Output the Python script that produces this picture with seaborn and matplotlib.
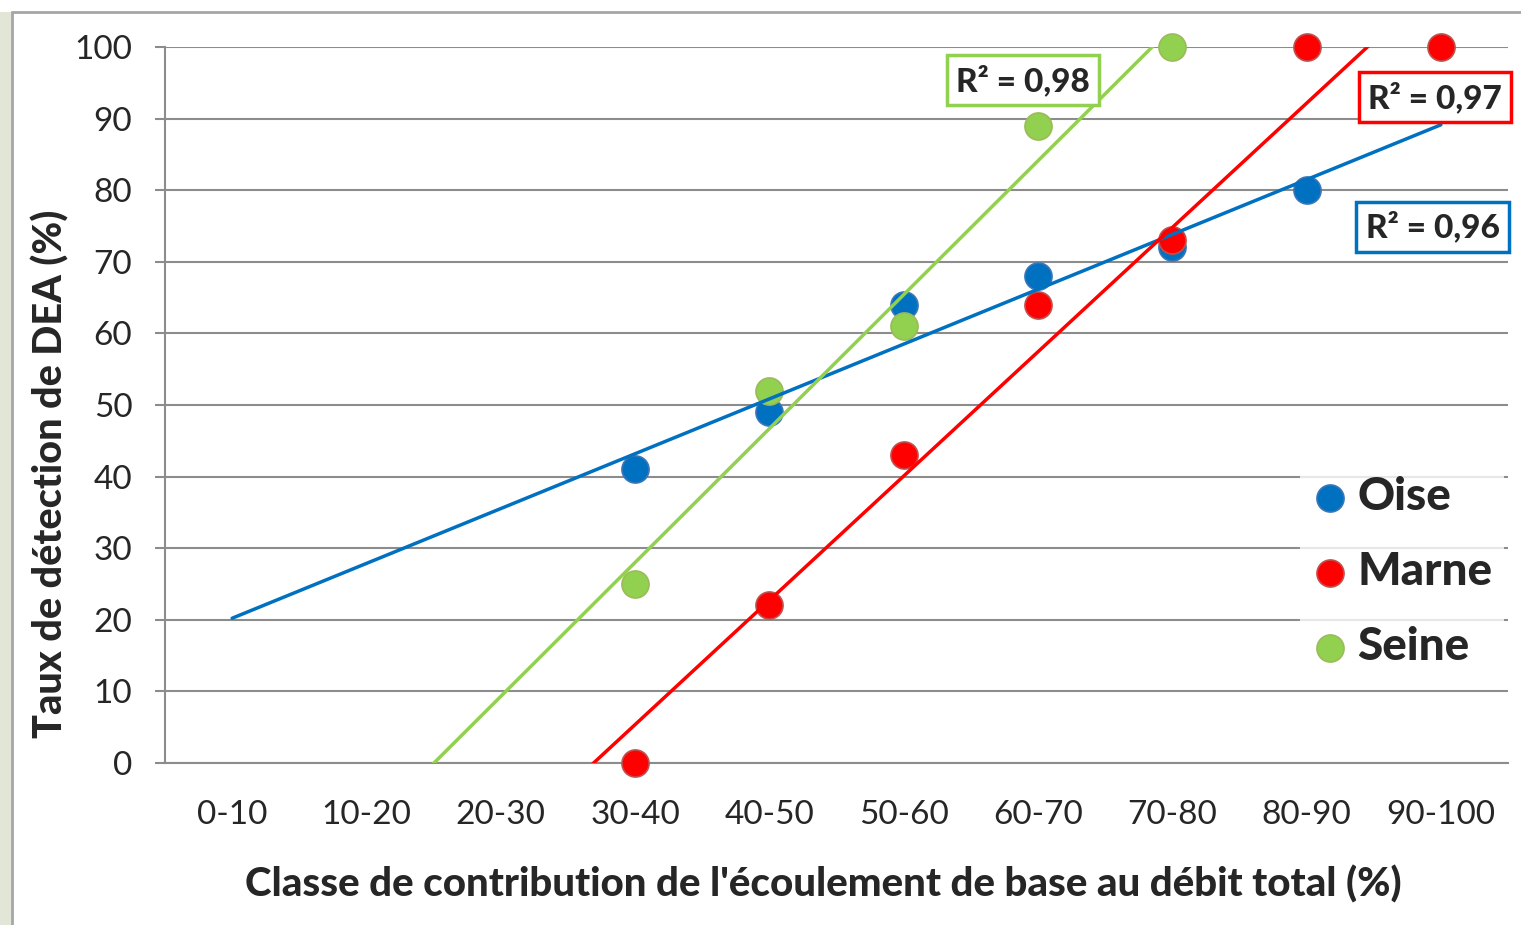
import numpy as np
import pandas as pd
import matplotlib
matplotlib.use("Agg")
import matplotlib.pyplot as plt
import seaborn as sns
from matplotlib.patches import Rectangle

# classes de contribution de l'écoulement de base
classes = ['0-10', '10-20', '20-30', '30-40', '40-50', '50-60',
           '60-70', '70-80', '80-90', '90-100']

# taux de détection de DEA (%) par bassin
oise_classes = ['30-40', '40-50', '50-60', '60-70', '70-80', '80-90']
oise_vals = [41, 49, 64, 68, 72, 80]
marne_classes = ['30-40', '40-50', '50-60', '60-70', '70-80', '80-90', '90-100']
marne_vals = [0, 22, 43, 64, 73, 100, 100]
seine_classes = ['30-40', '40-50', '50-60', '60-70', '70-80']
seine_vals = [25, 52, 61, 89, 100]

r2_labels = {'Oise': 'R² = 0,96', 'Marne': 'R² = 0,97', 'Seine': 'R² = 0,98'}

couleurs = {'Oise': '#0070C0', 'Marne': '#FF0000', 'Seine': '#92D050'}
bords = {'Oise': '#3A76B8', 'Marne': '#C0504D', 'Seine': '#9BBB59'}

sns.set_theme(style='white')
plt.rcParams['font.family'] = ['Lato', 'DejaVu Sans']

rows = []
for nom, cl, vals in [('Oise', oise_classes, oise_vals),
                      ('Marne', marne_classes, marne_vals),
                      ('Seine', seine_classes, seine_vals)]:
    for c, v in zip(cl, vals):
        rows.append({'bassin': nom, 'x': classes.index(c) + 1, 'taux': v})
df = pd.DataFrame(rows)

fig = plt.figure(figsize=(15.21, 9.25), dpi=100)
ax = fig.add_axes([165 / 1521, 1 - 763 / 925, 1343 / 1521, 716 / 925])

# fond : bande photo à gauche + cadre gris
fig.patches.append(Rectangle((0, 0), 12 / 1521, 1 - 12 / 925, transform=fig.transFigure,
                             facecolor='#e2e6d6', edgecolor='none', zorder=0))
fig.add_artist(plt.Line2D([12 / 1521, 12 / 1521], [0, 1 - 12 / 925], color='#a6a6a6', lw=2))
fig.add_artist(plt.Line2D([12 / 1521, 1], [1 - 12 / 925, 1 - 12 / 925], color='#a6a6a6', lw=2))

ax.set_xlim(0.5, 10.5)
ax.set_ylim(0, 100)

for i, nom in enumerate(['Oise', 'Marne', 'Seine']):
    d = df[df.bassin == nom]
    sns.scatterplot(data=d, x='x', y='taux', ax=ax, s=380, color=couleurs[nom],
                    edgecolor=bords[nom], linewidth=1.2, zorder=3 + i * 0.1,
                    clip_on=False, label=nom, legend=False)

# courbes de tendance linéaires (prolongées)
for nom in ['Oise', 'Marne', 'Seine']:
    d = df[df.bassin == nom]
    pente, orig = np.polyfit(d.x, d.taux, 1)
    xs = np.array([1, 10])
    ax.plot(xs, pente * xs + orig, color=couleurs[nom], lw=2.5, zorder=5)

ax.set_xticks(range(1, 11))
ax.set_xticklabels(classes)
ax.set_xticks(np.arange(0.5, 11, 1), minor=True)
ax.tick_params(axis='x', which='major', length=0, pad=27, labelsize=24)
ax.tick_params(axis='x', which='minor', length=7.5, width=1.5, color='#8c8c8c', direction='out')
ax.set_yticks(range(0, 101, 10))
ax.tick_params(axis='y', length=7.5, width=1.5, color='#8c8c8c', pad=16, labelsize=24,
               left=True)
ax.yaxis.grid(True, color='#8c8c8c', lw=1.5)
ax.set_axisbelow(True)
for s in ['top', 'right']:
    ax.spines[s].set_visible(False)
for s in ['left', 'bottom']:
    ax.spines[s].set_color('#8c8c8c')
    ax.spines[s].set_linewidth(1.5)

ax.set_xlabel("Classe de contribution de l'écoulement de base au débit total (%)",
              fontsize=29, fontweight='black')
ax.xaxis.set_label_coords(0.49, -0.143)
ax.set_ylabel('Taux de détection de DEA (%)', fontsize=28.5, fontweight='black')
ax.yaxis.set_label_coords(-0.071, 0.404)

leg = ax.legend(loc='lower right', bbox_to_anchor=(1.014, 0.085), frameon=True,
                prop={'weight': 'black', 'size': 33}, handletextpad=0.2, handlelength=0.8,
                labelspacing=0.72, borderpad=0.25, markerscale=1.0)
leg.get_frame().set_facecolor('white')
leg.get_frame().set_edgecolor('none')
leg.get_frame().set_boxstyle('square', pad=0)
leg.set_zorder(6)

# étiquettes R²
positions = {'Seine': (0.639, 0.954), 'Marne': (0.9457, 0.930), 'Oise': (0.944, 0.749)}
for nom, (px, py) in positions.items():
    ax.text(px, py, r2_labels[nom], transform=ax.transAxes, ha='center', va='center',
            fontsize=24, fontweight='black', zorder=7, clip_on=False,
            bbox=dict(boxstyle='square,pad=0.28', facecolor='white',
                      edgecolor=couleurs[nom], linewidth=2.5))

fig.savefig('out.png', dpi=100)
